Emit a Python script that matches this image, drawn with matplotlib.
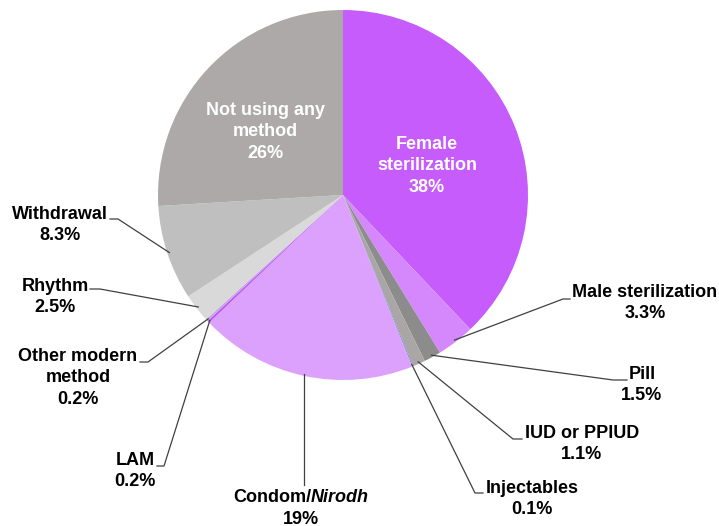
import numpy as np
import matplotlib
matplotlib.use('Agg')
import matplotlib.pyplot as plt

plt.rcParams['font.family'] = ['Liberation Sans', 'DejaVu Sans']
plt.rcParams['font.weight'] = 'bold'

methods = ['Female sterilization', 'Male sterilization', 'Pill', 'IUD or PPIUD',
           'Injectables', 'Condom/Nirodh', 'LAM', 'Other modern method',
           'Rhythm', 'Withdrawal', 'Not using any method']
shares = [38, 3.3, 1.5, 1.1, 0.1, 19, 0.2, 0.2, 2.5, 8.3, 26]
share_text = ['38%', '3.3%', '1.5%', '1.1%', '0.1%', '19%', '0.2%', '0.2%',
              '2.5%', '8.3%', '26%']
colors = ['#C55CFB', '#D488FC', '#8C8C8C', '#AAA6A6', '#7B8FD6', '#DCA1FC',
          '#B85AF2', '#C9A6E6', '#D9D9D9', '#BFBFBF', '#ADA9A9']

W, H = 719, 526
fig = plt.figure(figsize=(W / 100, H / 100), dpi=100)
ax = fig.add_axes([0, 0, 1, 1])

cx, cy, R = 343, 195, 185   # pie centre / radius in pixels (y from top)

def px(x, y):
    return x, H - y

wedges, _ = ax.pie(shares, colors=colors, startangle=90, counterclock=False,
                   center=px(cx, cy), radius=R, wedgeprops=dict(linewidth=0))
ax.set_xlim(0, W)
ax.set_ylim(0, H)
ax.set_aspect('equal')
ax.axis('off')

LS = 1.32

# labels inside the pie
inside = {0: ('Female\nsterilization', 427, 166), 10: ('Not using any\nmethod', 265, 132)}
for i, (txt, x, y) in inside.items():
    ax.text(*px(x, y), txt + '\n' + share_text[i], color='white', fontsize=13,
            ha='center', va='center', multialignment='center', linespacing=LS)

# outer labels: text centre, leader end point, elbow point
outer = {
    1: ('Male sterilization', (645, 303), (570, 299), (563, 299)),
    2: ('Pill', (642, 385), (627, 380), (613, 380)),
    3: ('IUD or PPIUD', (582, 444), (522, 439), (513, 439)),
    4: ('Injectables', (532, 499), (483, 493), (475, 493)),
    6: ('LAM', (135, 471), (157, 466), (164, 466)),
    7: ('Other modern\nmethod', (78, 378), (140, 362), (148, 362)),
    8: ('Rhythm', (55, 297), (90, 289), (100, 289)),
    9: ('Withdrawal', (60, 225), (110, 219), (118, 219)),
}
for i, (txt, pos, end, elbow) in outer.items():
    w = wedges[i]
    mid = np.deg2rad((w.theta1 + w.theta2) / 2)
    ax_, ay_ = w.center[0] + (R - 2) * np.cos(mid), w.center[1] + (R - 2) * np.sin(mid)
    ex, ey = px(*end)
    bx, by = px(*elbow)
    ax.plot([ax_, bx, ex], [ay_, by, ey], color='#404040', lw=0.9)
    ax.text(*px(*pos), txt + '\n' + share_text[i], color='black', fontsize=13,
            ha='center', va='center', multialignment='center', linespacing=LS)

# condom label with italic part
w = wedges[5]
mid = np.deg2rad((w.theta1 + w.theta2) / 2)
x0 = w.center[0] + (R - 2) * np.cos(mid)
y0 = w.center[1] + (R - 2) * np.sin(mid)
ax.plot([x0, x0], [y0, H - 485], color='#404040', lw=0.9)

renderer = fig.canvas.get_renderer()
t1 = ax.text(0, H - 497, 'Condom/', fontsize=13, ha='right', va='center')
t2 = ax.text(0, H - 497, 'Nirodh', fontsize=13, style='italic', ha='left', va='center')
w1 = t1.get_window_extent(renderer).width
w2 = t2.get_window_extent(renderer).width
xc = 301
t1.set_x(xc - (w1 + w2) / 2 + w1)
t2.set_x(xc - (w1 + w2) / 2 + w1)
ax.text(xc, H - 519, share_text[5], fontsize=13, ha='center', va='center')

fig.savefig('out.png', dpi=100)
